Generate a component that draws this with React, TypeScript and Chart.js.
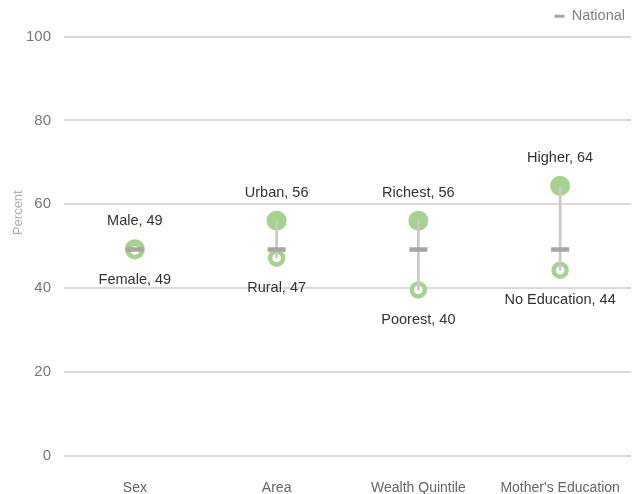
import React, { useEffect, useRef } from "react";
import { Chart, registerables } from "chart.js";

Chart.register(...registerables);

const categories = ["Sex", "Area", "Wealth Quintile", "Mother's Education"];
const highNames = ["Male", "Urban", "Richest", "Higher"];
const lowNames = ["Female", "Rural", "Poorest", "No Education"];
const highValues = [49.3, 56.1, 56.1, 64.4];
const lowValues = [49.0, 47.2, 39.6, 44.3];
const nationalValues = [49.2, 49.2, 49.2, 49.2];
const yTicks = [0, 20, 40, 60, 80, 100];

const GREEN = "#a6d18e";
const FONT = "'Liberation Sans', Arial, sans-serif";

const legendNudge = {
  id: "legendNudge",
  afterLayout(chart: any) {
    const lg = chart.legend;
    if (!lg) return;
    lg.left += 6;
    lg.right += 6;
    lg.top -= 3;
    lg.bottom -= 3;
  },
};

const labelPlugin = {
  id: "pointLabels",
  afterDatasetsDraw(chart: any) {
    const ctx = chart.ctx;
    const hi = chart.getDatasetMeta(0);
    const lo = chart.getDatasetMeta(1);
    ctx.save();
    ctx.font = `14.5px ${FONT}`;
    ctx.fillStyle = "#333333";
    ctx.textAlign = "center";
    ctx.textBaseline = "middle";
    hi.data.forEach((el: any, i: number) => {
      ctx.fillText(`${highNames[i]}, ${Math.round(highValues[i])}`, el.x, el.y - 28);
    });
    lo.data.forEach((el: any, i: number) => {
      ctx.fillText(`${lowNames[i]}, ${Math.round(lowValues[i])}`, el.x, el.y + 30);
    });
    // y-axis title
    const area = chart.chartArea;
    ctx.translate(18, area.top + (area.bottom - area.top) * 0.42);
    ctx.rotate(-Math.PI / 2);
    ctx.font = `13px ${FONT}`;
    ctx.fillStyle = "#b0b0b0";
    ctx.fillText("Percent", 0, 0);
    ctx.restore();
  },
};

export default function App() {
  const ref = useRef<HTMLCanvasElement>(null);
  useEffect(() => {
    document.body.style.margin = "0";
    const chart = new Chart(ref.current as HTMLCanvasElement, {
      type: "line",
      data: {
        labels: categories,
        datasets: [
          {
            label: "High",
            data: highValues,
            showLine: false,
            pointRadius: 10,
            pointHoverRadius: 10,
            pointBorderWidth: 0,
            pointBackgroundColor: GREEN,
            borderColor: GREEN,
            order: 4,
          },
          {
            label: "Low",
            data: lowValues,
            showLine: false,
            pointRadius: 6.5,
            pointHoverRadius: 6.5,
            pointBorderWidth: 4.5,
            pointBackgroundColor: "#ffffff",
            pointBorderColor: GREEN,
            borderColor: GREEN,
            order: 3,
          },
          {
            type: "bar",
            label: "Range",
            data: highValues.map((h, i) => [lowValues[i], h]),
            backgroundColor: "#c8c8c8",
            borderWidth: 0,
            barThickness: 2,
            grouped: false,
            order: 2,
          } as any,
          {
            label: "National",
            data: nationalValues,
            showLine: false,
            pointStyle: "line",
            pointRadius: 9,
            pointHoverRadius: 9,
            pointBorderWidth: 4.5,
            pointBorderColor: "#a6a6a6",
            borderColor: "#a6a6a6",
            backgroundColor: "#a6a6a6",
            order: 1,
          },
        ],
      },
      options: {
        responsive: false,
        animation: false,
        layout: { autoPadding: false, padding: { left: 0, right: 10, top: 0, bottom: 0 } },
        plugins: {
          tooltip: { enabled: false },
          legend: {
            position: "top",
            align: "end",
            labels: {
              usePointStyle: true,
              pointStyleWidth: 10,
              boxHeight: 8,
              color: "#808080",
              font: { family: FONT, size: 14.5 },
              padding: 12,
              generateLabels: (c: any) =>
                Chart.defaults.plugins.legend.labels
                  .generateLabels(c)
                  .filter((l: any) => l.text === "National")
                  .map((l: any) => ({ ...l, lineWidth: 3, pointStyle: "line" })),
            },
          },
        },
        scales: {
          x: {
            type: "category",
            offset: true,
            grid: { display: false },
            border: { display: false },
            afterFit: (s: any) => {
              s.height = 38;
              s.paddingLeft = 0;
              s.paddingRight = 0;
            },
            ticks: {
              color: "#666666",
              font: { family: FONT, size: 14 },
              padding: 16,
              maxRotation: 0,
              minRotation: 0,
              autoSkip: false,
            },
          },
          y: {
            min: 0,
            max: 100,
            afterBuildTicks: (s: any) => {
              s.ticks = yTicks.map((v) => ({ value: v }));
            },
            afterFit: (s: any) => {
              s.width = 64;
            },
            grid: { color: "#d9d9d9", lineWidth: 2, drawTicks: false },
            border: { display: false },
            ticks: {
              color: "#777777",
              font: { family: FONT, size: 15 },
              padding: 13,
            },
          },
        },
      },
      plugins: [labelPlugin, legendNudge],
    } as any);
    return () => chart.destroy();
  }, []);
  return <canvas ref={ref} width={641} height={494} style={{ display: "block" }} />;
}
